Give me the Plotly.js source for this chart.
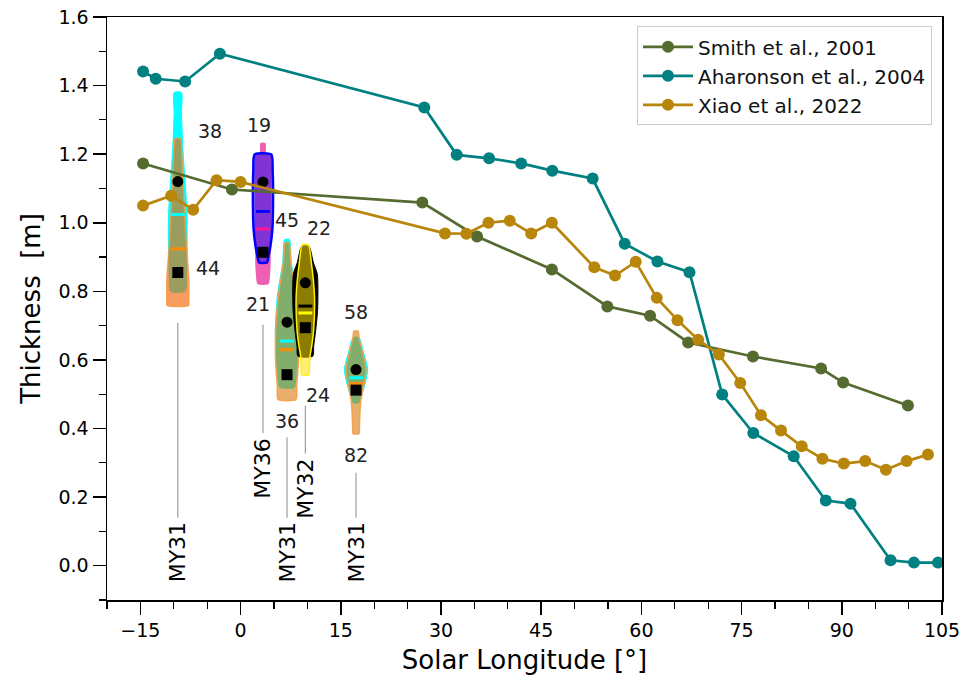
<!DOCTYPE html>
<html>
<head>
<meta charset="utf-8">
<script src="https://cdn.plot.ly/plotly-3.0.1.min.js"></script>
<style>html,body{margin:0;padding:0;background:#fff}#chart{width:973px;height:679px}</style>
</head>
<body>
<div id="chart"></div>
<script>
// ---- line series data ----
const smithX = [-14.6, -1.3, 27.2, 35.4, 46.6, 54.9, 61.3, 67.0, 76.7, 86.9, 90.2, 99.9];
const smithY = [1.173, 1.097, 1.059, 0.960, 0.864, 0.756, 0.729, 0.651, 0.610, 0.575, 0.534, 0.467];
const aharX = [-14.6, -12.7, -8.3, -3.1, 27.5, 32.35, 37.2, 42.0, 46.66, 52.7, 57.5, 62.4, 67.2, 72.1, 76.75, 82.8, 87.6, 91.3, 97.3, 100.8, 104.4];
const aharY = [1.441, 1.420, 1.412, 1.493, 1.336, 1.198, 1.188, 1.173, 1.152, 1.129, 0.939, 0.887, 0.856, 0.499, 0.387, 0.319, 0.190, 0.181, 0.016, 0.009, 0.009];
const xiaoX = [-14.6, -10.4, -7.1, -3.6, 0.0, 30.6, 33.8, 37.1, 40.3, 43.5, 46.6, 52.95, 56.05, 59.15, 62.3, 65.4, 68.5, 71.6, 74.8, 77.9, 80.9, 84.0, 87.1, 90.3, 93.5, 96.6, 99.7, 102.9];
const xiaoY = [1.050, 1.079, 1.038, 1.124, 1.119, 0.969, 0.968, 1.000, 1.006, 0.969, 1.000, 0.870, 0.846, 0.886, 0.781, 0.716, 0.659, 0.616, 0.533, 0.439, 0.394, 0.348, 0.312, 0.298, 0.305, 0.280, 0.305, 0.324];

// ---- violin groups ----
const violinCenters = [-9.4, 3.35, 6.95, 9.69, 17.28];
const violinYear = ['MY31', 'MY36', 'MY31', 'MY32', 'MY31'];
const countTop = ['38', '19', '45', '22', '58'];
const countTopX = [-4.6, 2.75, 6.95, 11.7, 17.3];
const countTopY = [1.269, 1.286, 1.009, 0.986, 0.741];
const countBot = ['44', '21', '36', '24', '82'];
const countBotX = [-4.9, 2.6, 6.95, 11.6, 17.3];
const countBotY = [0.869, 0.762, 0.423, 0.499, 0.324];
const circleY = [1.120, 1.119, 0.710, 0.825, 0.572];
const squareY = [0.855, 0.914, 0.557, 0.694, 0.512];
const dash1Y = [1.024, 1.033, 0.655, 0.757, 0.548];
const dash2Y = [0.924, 0.982, 0.630, 0.737, 0.531];
const stemTop = [0.708, 0.703, 0.374, 0.467, 0.271];
const stemBot = [0.140, 0.387, 0.140, 0.327, 0.140];
const yearLabelY = [0.0385, 0.283, 0.0385, 0.225, 0.0385];

// violin outlines: y levels and half widths (degrees Ls)
const vA1y = [1.38, 1.32, 1.22, 1.126, 1.03, 0.93, 0.85, 0.80];
const vA1w = [0.55, 0.55, 0.75, 1.07, 1.37, 1.40, 1.30, 1.10];
const vA2y = [1.245, 1.22, 1.126, 1.03, 0.93, 0.834, 0.78, 0.759];
const vA2w = [0.42, 0.55, 0.75, 1.00, 1.30, 1.65, 1.65, 1.60];
const vB1y = [1.231, 1.205, 1.195, 1.10, 1.00, 0.93, 0.884, 0.85, 0.823];
const vB1w = [0.30, 0.35, 1.05, 1.15, 1.15, 1.05, 1.05, 0.95, 0.75];
const vB2y = [1.199, 1.15, 1.05, 0.98, 0.93, 0.90, 0.884];
const vB2w = [1.25, 1.45, 1.50, 1.40, 1.10, 0.80, 0.60];
const vC1y = [0.951, 0.884, 0.786, 0.689, 0.60, 0.54, 0.52];
const vC1w = [0.35, 0.65, 1.45, 1.75, 1.60, 1.30, 1.10];
const vC2y = [0.942, 0.884, 0.786, 0.689, 0.592, 0.523, 0.485];
const vC2w = [0.30, 0.55, 1.30, 1.70, 1.70, 1.45, 1.35];
const vD1y = [0.931, 0.884, 0.85, 0.75, 0.689, 0.64, 0.611];
const vD1w = [0.55, 1.20, 1.80, 1.85, 1.57, 1.25, 1.12];
const vD2y = [0.936, 0.884, 0.786, 0.689, 0.64, 0.611, 0.58, 0.557];
const vD2w = [0.45, 0.90, 1.37, 1.25, 0.95, 0.70, 0.60, 0.55];
const vE1y = [0.665, 0.62, 0.572, 0.53, 0.49, 0.475];
const vE1w = [0.45, 1.15, 1.75, 1.35, 0.70, 0.45];
const vE2y = [0.684, 0.66, 0.62, 0.572, 0.53, 0.485, 0.45, 0.40, 0.385];
const vE2w = [0.30, 0.50, 1.00, 1.50, 1.20, 0.75, 0.60, 0.50, 0.45];

function violinShape(cx, ys, ws, fill, line, lw) {
  const xs = [], yy = [];
  for (let i = 0; i < ys.length; i++) { xs.push(cx + ws[i]); yy.push(ys[i]); }
  for (let i = ys.length - 1; i >= 0; i--) { xs.push(cx - ws[i]); yy.push(ys[i]); }
  xs.push(xs[0]); yy.push(yy[0]);
  return {x: xs, y: yy, type: 'scatter', mode: 'lines', fill: 'toself', fillcolor: fill,
          line: {color: line, width: lw, shape: 'spline', smoothing: 0.6}, showlegend: false, hoverinfo: 'skip'};
}

const C = violinCenters;
const cyanFill = 'rgb(0,255,255)';
const traces = [];
// stems
for (let i = 0; i < C.length; i++) {
  traces.push({x: [C[i], C[i]], y: [stemTop[i], stemBot[i]], type: 'scatter', mode: 'lines',
    line: {color: '#8a8a8a', width: 1}, showlegend: false, hoverinfo: 'skip'});
}
traces.push(violinShape(C[0], vA1y, vA1w, cyanFill, 'rgb(0,255,255)', 1));
traces.push(violinShape(C[0], vA2y, vA2w, 'rgba(245,100,0,0.63)', 'rgba(250,150,60,0.8)', 1.5));
traces.push(violinShape(C[1], vB1y, vB1w, 'rgb(236,95,178)', 'rgb(236,95,178)', 1.5));
traces.push(violinShape(C[1], vB2y, vB2w, 'rgba(0,0,255,0.45)', 'rgb(0,0,255)', 2.5));
traces.push(violinShape(C[2], vC1y, vC1w, cyanFill, 'rgb(0,255,255)', 1));
traces.push(violinShape(C[2], vC2y, vC2w, 'rgba(215,120,10,0.6)', 'rgba(245,160,70,0.9)', 1.5));
traces.push(violinShape(C[3], vD1y, vD1w, 'rgb(0,0,0)', 'rgb(0,0,0)', 1));
traces.push(violinShape(C[3], vD2y, vD2w, 'rgba(255,228,0,0.55)', 'rgb(255,240,0)', 1.5));
traces.push(violinShape(C[4], vE1y, vE1w, cyanFill, 'rgb(0,255,255)', 1));
traces.push(violinShape(C[4], vE2y, vE2w, 'rgba(215,120,10,0.6)', 'rgba(245,160,70,0.9)', 1.5));

// statistic markers
const dash1Col = ['#00FFFF', '#0000FF', '#00FFFF', '#000000', '#00FFFF'];
const dash2Col = ['#FF8C00', '#FF1493', '#FF8C00', '#FFFF00', '#FF8C00'];
traces.push({x: C, y: dash1Y, type: 'scatter', mode: 'markers', showlegend: false, hoverinfo: 'skip',
  marker: {symbol: 'line-ew', size: 10, line: {width: 3, color: dash1Col}}});
traces.push({x: C, y: dash2Y, type: 'scatter', mode: 'markers', showlegend: false, hoverinfo: 'skip',
  marker: {symbol: 'line-ew', size: 10, line: {width: 3, color: dash2Col}}});
traces.push({x: C, y: circleY, type: 'scatter', mode: 'markers', showlegend: false, hoverinfo: 'skip',
  marker: {symbol: 'circle', size: 11, color: '#000'}});
traces.push({x: C, y: squareY, type: 'scatter', mode: 'markers', showlegend: false, hoverinfo: 'skip',
  marker: {symbol: 'square', size: 11, color: '#000'}});

// line series
traces.push({x: smithX, y: smithY, name: 'Smith et al., 2001', type: 'scatter', mode: 'lines+markers',
  line: {color: '#556B2F', width: 2.7}, marker: {size: 12, color: '#556B2F'}});
traces.push({x: aharX, y: aharY, name: 'Aharonson et al., 2004', type: 'scatter', mode: 'lines+markers',
  line: {color: '#008080', width: 2.7}, marker: {size: 12, color: '#008080'}});
traces.push({x: xiaoX, y: xiaoY, name: 'Xiao et al., 2022', type: 'scatter', mode: 'lines+markers',
  line: {color: '#B8860B', width: 2.7}, marker: {size: 12, color: '#B8860B'}});

const annotations = [];
for (let i = 0; i < C.length; i++) {
  annotations.push({x: countTopX[i], y: countTopY[i], text: countTop[i], showarrow: false, font: {size: 19, color: '#222'}});
  annotations.push({x: countBotX[i], y: countBotY[i], text: countBot[i], showarrow: false, font: {size: 19, color: '#222'}});
  annotations.push({x: C[i], y: yearLabelY[i], text: violinYear[i], showarrow: false, textangle: -90, font: {size: 22, color: '#000'}});
}

const layout = {
  width: 973, height: 679,
  margin: {l: 107, r: 31, t: 17, b: 79},
  paper_bgcolor: '#fff', plot_bgcolor: '#fff',
  font: {family: 'DejaVu Sans, sans-serif', color: '#000'},
  showlegend: true,
  legend: {x: 0.988, xanchor: 'right', y: 0.984, yanchor: 'top', bgcolor: '#fff', bordercolor: '#cccccc', borderwidth: 1,
    itemwidth: 50, font: {size: 20, color: '#111'}},
  xaxis: {range: [-20, 105], tick0: 0, dtick: 15, ticks: 'outside', ticklen: 13, tickwidth: 1.5, tickcolor: '#000',
    showgrid: false, zeroline: false, showline: true, mirror: true, linecolor: '#000', linewidth: 1.5,
    tickfont: {size: 19}, minor: {dtick: 5, ticks: 'outside', ticklen: 7, tickwidth: 1.2, tickcolor: '#000', showgrid: false},
    title: {text: 'Solar Longitude [°]', font: {size: 26}, standoff: 10}},
  yaxis: {range: [-0.1, 1.6], tick0: 0, dtick: 0.2, tickformat: '.1f', ticks: 'outside', ticklen: 13, tickwidth: 1.5, tickcolor: '#000',
    showgrid: false, zeroline: false, showline: true, mirror: true, linecolor: '#000', linewidth: 1.5,
    tickfont: {size: 19}, minor: {dtick: 0.1, ticks: 'outside', ticklen: 7, tickwidth: 1.2, tickcolor: '#000', showgrid: false},
    title: {text: 'Thickness  [m]', font: {size: 26}, standoff: 10}},
  annotations: annotations
};

Plotly.newPlot('chart', traces, layout, {displayModeBar: false, staticPlot: true});
</script>
</body>
</html>
